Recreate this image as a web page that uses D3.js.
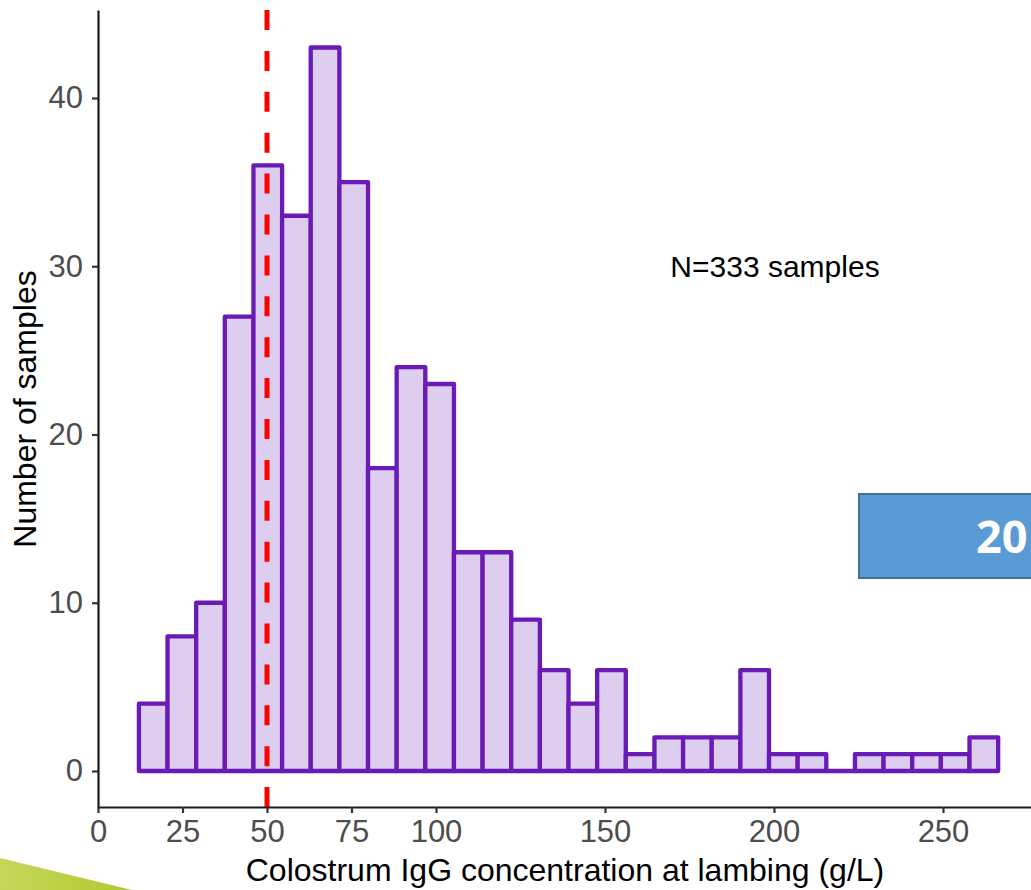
<!DOCTYPE html>
<html>
<head>
<meta charset="utf-8">
<script src="https://cdn.jsdelivr.net/npm/d3@7"></script>
<style>
  body { margin: 0; background: #fff; }
  svg { display: block; font-family: "Liberation Sans", Arial, sans-serif; }
</style>
</head>
<body>
<script>
// histogram of colostrum IgG (30 bins)
var binStart = 12.1, binWidth = 8.474;
var counts = [4, 8, 10, 27, 36, 33, 43, 35, 18, 24, 23, 13, 13, 9, 6,
              4, 6, 1, 2, 2, 2, 6, 1, 1, 0, 1, 1, 1, 1, 2];
var xTicks = [0, 25, 50, 75, 100, 150, 200, 250];
var yTicks = [0, 10, 20, 30, 40];
var cutoff = 50;
var note = {x: 200.3, y: 30, text: "N=333 samples"};

var W = 1031, H = 890;
var svg = d3.select("body").append("svg")
    .attr("width", W)
    .attr("height", H);

var x = d3.scaleLinear().domain([0, 276.04]).range([98, 1031]),
    y = d3.scaleLinear().domain([-2.14, 45.23]).range([807, 10]);

var bins = counts.map(function(c, i) {
  return {x0: binStart + i * binWidth, x1: binStart + (i + 1) * binWidth, n: c};
});

// slide decoration: green swoosh bottom-left
var grad = svg.append("defs").append("linearGradient")
    .attr("id", "gr").attr("x1", "0").attr("x2", "1");
grad.append("stop").attr("offset", "0").attr("stop-color", "#c5d75a");
grad.append("stop").attr("offset", "1").attr("stop-color", "#b2c92e");
svg.append("path")
    .attr("d", "M0,858 L132,890 L0,890 Z")
    .attr("fill", "url(#gr)");

// bars (paths so empty bins still show a flat outline)
svg.append("g").selectAll("path")
  .data(bins)
  .enter().append("path")
    .attr("d", function(d) {
      return "M" + x(d.x0) + "," + y(0) + "V" + y(d.n) + "H" + x(d.x1) + "V" + y(0) + "Z";
    })
    .attr("fill", "#ddcdef")
    .attr("stroke", "#6a1ab6")
    .attr("stroke-width", 4.3)
    .attr("stroke-linejoin", "round");

// cutoff line
svg.append("line")
    .attr("x1", x(cutoff)).attr("x2", x(cutoff))
    .attr("y1", y.range()[1]).attr("y2", y.range()[0])
    .attr("stroke", "#ff0000")
    .attr("stroke-width", 5)
    .attr("stroke-dasharray", "20 20.9");

// axes
var xAxis = svg.append("g")
    .attr("transform", "translate(0," + y.range()[0] + ")")
    .call(d3.axisBottom(x).tickValues(xTicks).tickSize(6).tickPadding(7).tickSizeOuter(0));
var yAxis = svg.append("g")
    .attr("transform", "translate(" + x.range()[0] + ",0)")
    .call(d3.axisLeft(y).tickValues(yTicks).tickSize(6).tickPadding(9).tickSizeOuter(0));

[xAxis, yAxis].forEach(function(a) {
  a.select(".domain").attr("stroke", "#1a1a1a").attr("stroke-width", 2.2);
  a.selectAll(".tick line").attr("stroke", "#333").attr("stroke-width", 2.2);
  a.selectAll(".tick text")
      .attr("fill", "#4d4d4d")
      .style("font-size", "31px")
      .style("font-family", "Liberation Sans, Arial, sans-serif");
});

// axis titles
svg.append("text")
    .attr("x", 565)
    .attr("y", 881)
    .attr("text-anchor", "middle")
    .style("font-size", "32px")
    .attr("fill", "#000")
    .text("Colostrum IgG concentration at lambing (g/L)");

svg.append("text")
    .attr("transform", "translate(36,409) rotate(-90)")
    .attr("text-anchor", "middle")
    .style("font-size", "32px")
    .attr("fill", "#000")
    .text("Number of samples");

// annotation
svg.append("text")
    .attr("x", x(note.x))
    .attr("y", y(note.y))
    .attr("dy", "0.35em")
    .attr("text-anchor", "middle")
    .style("font-size", "30px")
    .attr("fill", "#000")
    .text(note.text);

// slide decoration: blue box clipped at right edge
svg.append("rect")
    .attr("x", 859).attr("y", 494)
    .attr("width", 200).attr("height", 84)
    .attr("fill", "#5b9bd5")
    .attr("stroke", "#41719c")
    .attr("stroke-width", 2);
svg.append("text")
    .attr("x", 976).attr("y", 553)
    .attr("fill", "#fff")
    .style("font-family", "Open Sans, Liberation Sans, sans-serif")
    .style("font-weight", "bold")
    .style("font-size", "45px")
    .text("20");
</script>
</body>
</html>
